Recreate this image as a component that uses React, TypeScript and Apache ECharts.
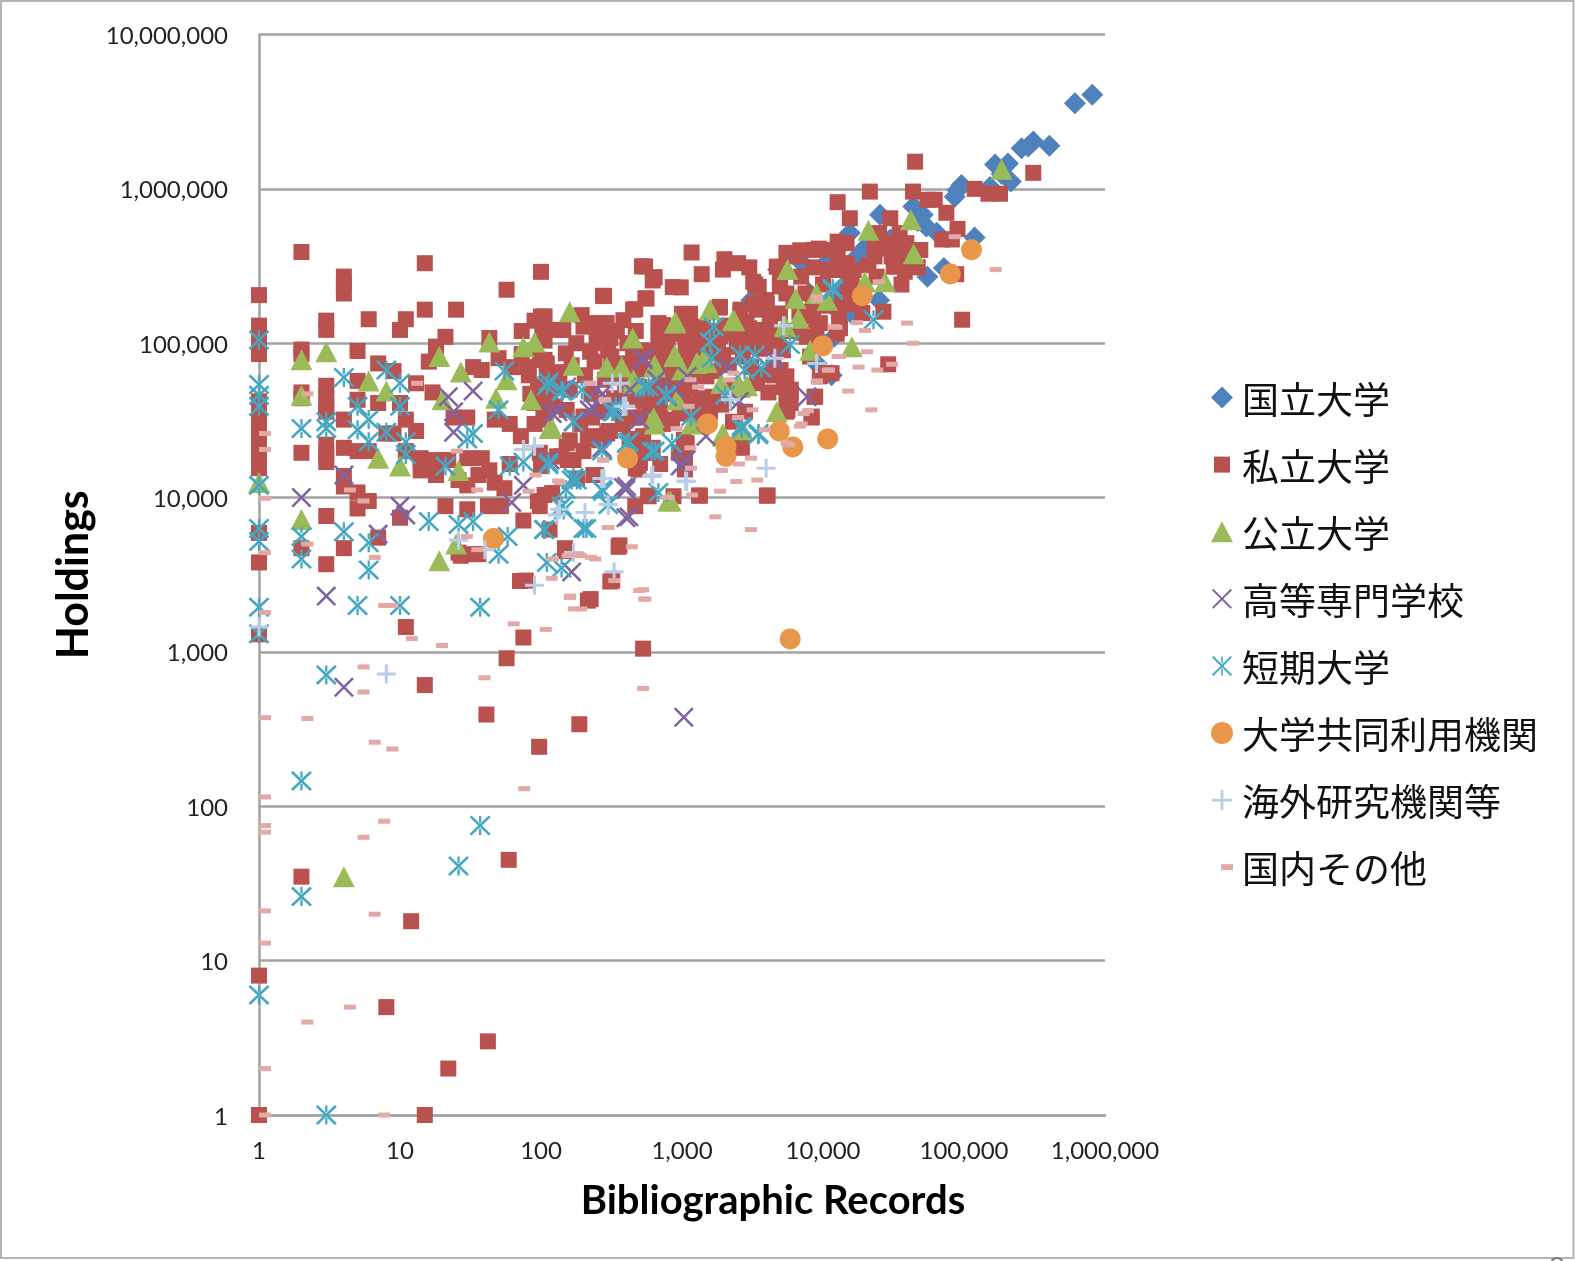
import React, { useEffect, useRef } from "react";
import * as echarts from "echarts";

const seriesNames = ["国立大学", "私立大学", "公立大学", "高等専門学校", "短期大学", "大学共同利用機関", "海外研究機関等", "国内その他"];
const xTitle = "Bibliographic Records";
const yTitle = "Holdings";

const national = [
  [813000,4070000],[612000,3590000],[403000,1900000],[310000,2030000],[256000,1830000],[285000,1880000],[215000,1115000],[166000,1440000],[205000,1460000],[153000,1030000],[185000,1250000],
  [96000,1060000],[86000,890000],[90000,980000],[25400,680000],[43700,770000],[51000,680000],[54000,570000],[64000,520000],[119000,484000],[55000,270000],[72000,307000],[15500,517000],
  [30000,470000],[17000,355000],[11000,345000],[7000,335000],[3100,190000],[13000,220000],[25000,190000],[12500,165000],[16000,155000],[9000,74000],[12000,110000],[38000,400000],[47000,620000],[20000,420000],
  [8000,210000],[14500,240000],[10000,100000],[11500,62000],[4800,300000],
];

const privateU = [
  [1,205000],[1,130000],[1,115000],[1,105000],[1,95000],[1,85000],[1,42000],[1,38000],[1,34000],[1,30000],[1,27000],[1,24000],[1,21000],[1,19000],[1,17000],[1,15500],[1,5900],[1,3800],[1,1300],[1,8],[1,1],
  [2,390000],[2,91000],[2,85000],[2,48000],[2,44000],[2,19500],[2,4700],[2,35],
  [3,140000],[3,122000],[3,53000],[3,46000],[3,40000],[3,36000],[3,22000],[3,19000],[3,17000],[3,7600],[3,3700],
  [4,270000],[4,240000],[4,210000],[4,32000],[4,21000],[4,4700],[4,11800],[4,13800],
  [5,89000],[5,57000],[5,43000],[5,20000],[5,10800],[5,8500],[6,143000],[6,20000],[6,9500],[7,74000],[7,41000],[7,5500],[8,26000],[8,5],
  [9,66000],[9,26000],[10,122000],[10,41000],[10,7400],[11,143000],[11,32000],[11,20000],[11,1450],[12,18],[13,55000],[13,27000],[14,18000],[14,15000],
  [15,330000],[15,165000],[15,610],[15,1],[16,76000],[17,48000],[18,95000],[18,17500],[18,14000],[21,110000],[21,8800],[22,17500],[22,2],[24,33000],[25,165000],[26,13000],[26,4400],
  [27,4200],[30,33000],[30,18000],[30,12000],[30,8400],[32,4300],[33,70000],[36,14000],[36,4300],[38,67000],[38,18000],[41,393],[42,8800],[42,3],[43,108000],[43,15000],[47,32000],[47,12500],
  [50,80000],[52,8800],[55,11500],[57,222000],[57,910],[59,45],[60,30000],[60,16500],[62,70000],[71,2880],[72,25000],[73,120000],[73,85000],[75,1240],[78,2900],[75,7100],[80,70000],
  [84,47000],[90,140000],[90,30000],[90,41000],[95,9500],[97,243],[98,78000],[98,19500],[98,8800],[100,290000],[100,149000],[100,45000],[100,16000],[102,122000],[104,35000],[106,149000],[106,122000],[106,78000],[106,17500],[106,10400],
  [108,32000],[110,74000],[112,52000],[115,6200],[116,41000],[120,10700],[122,52000],[129,65000],[130,122000],[130,18500],[140,18500],[144,122000],[148,4700],[149,4500],[152,37000],[152,22500],[155,17500],[160,50000],[160,23500],
  [170,17500],[180,13300],[187,340],[194,152000],[200,128000],[200,33500],[200,20000],[215,2150],[223,88000],[225,2200],[230,33000],[235,14000],[241,135000],[245,25000],[245,14000],[248,110000],[260,23500],
  [275,203000],[280,202000],[292,135000],[300,110000],[300,90000],[300,27000],[310,108000],[310,27000],[310,2860],[320,2900],[325,67000],[355,4800],[360,4900],[380,30000],[384,141000],[404,74000],
  [450,165000],[450,90000],[452,33000],[466,166000],[466,8800],[470,15500],[478,43000],[480,21000],[490,15200],[503,78000],[503,16800],[510,33000],[520,315000],[530,1050],[550,195000],[560,195000],[560,19500],[575,10300],[580,10200],
  [594,39000],[620,255000],[620,21000],[640,267000],[662,30000],[680,135000],[680,110000],[680,90000],[700,61000],[735,131000],[735,110000],[735,30000],[760,90000],[860,231000],[870,74000],[870,47000],[870,10200],
  [980,230000],[1000,155000],[1020,35000],[1030,23700],[950,19500],[1050,18500],[1050,15200],[1080,22500],[1110,152000],[1140,110000],[1140,52000],[1170,387000],[1380,280000],[1320,10300],[1340,41000],[1340,10300],[1410,128000],[1490,105000],[1490,61000],
  [1650,45000],[1670,41000],[1760,86000],[1840,170000],[1860,172000],[1860,111000],[1950,300000],[1960,84000],[2000,350000],[2070,52000],[2450,95000],[2500,330000],[2590,156000],[2590,50000],[2600,165000],[2600,111000],[2650,21500],[2650,21000],[2870,135000],
  [3000,310000],[3200,250000],[3200,181000],[3200,105000],[3200,95000],[3300,240000],[3400,165000],[3400,122000],[3400,55000],[3500,232000],[3770,110000],[3900,190000],[3950,190000],[4000,180000],[4000,10300],[4050,10300],[4200,150000],[4200,135000],
  [4450,70000],[4700,313000],[4700,110000],[4950,313000],[4950,258000],[4950,233000],[4950,156000],[5000,67000],[5250,52000],[5500,385000],[5500,210000],[5500,61000],[5500,41000],[5500,36000],[5600,37000],[5900,50000],[5900,48000],[5900,41000],
  [6160,190000],[6500,365000],[6900,400000],[7000,270000],[7250,117000],[7700,110000],[8100,82000],[8300,33500],[8300,33000],[8500,402000],[8500,310000],[8500,180000],[8500,150000],[8700,45000],[8800,45000],[9000,130000],[9300,410000],[9500,135000],[9500,61000],
  [10600,64000],[10800,298000],[11200,402000],[11500,64000],[12500,191000],[12500,115000],[12700,820000],[12700,455000],[12700,365000],[13200,125000],[13300,298000],[14700,445000],[14700,330000],[15500,645000],[16000,245000],[16200,180000],[16500,298000],
  [19000,157000],[21500,960000],[23200,445000],[23200,365000],[25000,517000],[26800,160000],[29000,73000],[30000,645000],[30700,365000],[31700,313000],[35000,517000],[35000,347000],[36000,240000],[39000,445000],[43500,960000],[45000,1500000],
  [47000,310000],[49000,402000],[55000,850000],[62000,850000],[70000,470000],[75000,700000],[82000,470000],[88000,280000],[90000,550000],[97000,142000],[119000,1000000],[149000,930000],[180000,930000],[310000,1270000],
  [106,104000],[530,25000],[590,50000],[590,19500],[626,268000],[700,37000],[700,16500],[740,100000],[760,128000],[547,314000],[1030,45000],[1140,155000],[1140,122000],[1140,68000],[1340,105000],[1500,33500],
  [82,62000],[95,52000],[110,62000],[125,39000],[135,62000],[150,86000],[165,72000],[178,100000],[190,30000],[205,62000],[215,24000],[228,47000],[240,76000],[255,100000],[265,36000],[285,58000],[295,26000],[315,82000],[330,44000],[345,120000],[360,60000],[395,47000],[410,100000],[425,24000],[440,62000],[470,120000],[495,52000],[515,90000],[540,42000],[565,68000],[610,46000],[630,88000],[650,40000],[670,70000],[690,45000],[720,85000],[750,57000],[790,100000],[820,60000],[850,32000],[900,115000],[930,75000],[960,36000],[990,55000],[1060,95000],[1100,76000],[1150,40000],[1200,90000],[1230,62000],[1280,33000],[1300,100000],[1380,68000],[1450,44000],[1520,88000],[1580,36000],[1620,120000],[1700,66000],[1800,100000],[1900,40000],[2020,130000],[2150,72000],[2300,31000],[2400,115000],[2700,82000],[2800,36000],[3000,125000],[3100,70000],[3600,92000],[3800,62000],[4100,48000],[4300,95000],[4600,62000],[5200,90000],[5700,120000],[6800,160000],[7500,210000],[8800,105000],[10000,240000],[11000,175000],[13000,150000],[14000,185000],[15000,235000],[17500,215000],[21000,320000],[24000,270000],[28000,410000],[32000,450000],[38000,290000],[42000,375000],
];

const publicU = [
  [185000,1340000],[21000,540000],[42000,630000],[44000,380000],[5600,300000],[6400,195000],[9000,210000],[10700,190000],[19800,250000],[27500,250000],[5350,130000],[6700,145000],[8100,90000],[16000,95000],
  [1580,165000],[2350,140000],[900,137000],[880,82000],[1280,75000],[640,71000],[4700,36000],[830,9500],[630,33000],[1950,26000],[2650,28000],[2500,55000],[2900,53000],[1500,75000],
  [2,78000],[3,88000],[2,46000],[1,12500],[2,7200],[4,35],[6,57000],[8,49000],[7,18000],[10,16000],[19,82000],[27,65000],[43,102000],[75,95000],[90,102000],[57,58000],[48,44000],[85,43000],[160,160000],[170,72000],
  [447,108000],[293,70000],[373,70000],[890,135000],[890,84000],[643,70000],[450,55000],[640,30000],[115,28000],[26,15000],[20,43000],[25,5000],[19,3900],[800,9500],[1000,67000],
  [1270,74000],[640,72000],[920,43000],[2590,52000],[1430,80000],[1900,55000],[120,28000],[1170,30000],[452,58000],[2300,141000],[1580,165000],[5400,128000],[1950,25000],[2650,27500],
];

const kosen = [
  [152,52000],[274,47000],[132,36000],[170,31000],[235,38000],[320,39000],[530,78000],[500,32000],[405,11800],[385,11600],[420,7500],[780,46000],[1090,61000],[880,51000],[1480,25000],[1070,17500],[970,16000],[660,58000],[2130,70000],[2550,42000],[4550,78000],[7700,45000],[273,20500],[116,17500],[590,52000],[428,50000],
  [530,80000],[22,45000],[24,36000],[33,49000],[24,26500],[4,14000],[2,10000],[10,8800],[11,7700],[7,5800],[3,2300],[21,16000],[75,12000],[62,9300],[400,11300],[400,7400],[165,3300],[270,21000],[170,31000],[220,37000],[120,35000],[250,50000],[500,32000],[140,50000],[1000,16500],[790,45000],
  [4,590],[1030,377],
];

const junior = [
  [1,105000],[1,54000],[1,46000],[1,39000],[1,12000],[1,6300],[1,5200],[1,1950],[1,1310],[1,6],[2,28000],[2,5600],[2,4000],[2,146],[2,26],[3,28000],[3,31000],[3,710],[3,1],[4,60000],[4,6000],[5,39000],[5,27500],[5,2000],[6,32000],[6,23000],[6,5100],[6,3400],
  [10,2000],[8,67000],[10,55000],[10,39000],[8,26500],[11,23000],[11,19000],[16,7000],[26,6700],[26,41],[33,7000],[37,75],[37,1950],[58,5600],[50,4300],[21,16000],[33,26000],[30,24000],[55,66000],[50,37000],[60,16000],[75,17000],[113,16300],[110,53000],[140,49000],[195,50000],[170,31000],
  [320,36000],[420,23000],[540,52000],[780,46000],[610,20000],[165,13000],[140,8800],[170,13500],[300,9000],[270,11300],[200,6300],[105,6200],[680,10800],[110,3800],[140,3500],
  [330,36000],[340,39000],[1580,102000],[1680,128000],[1620,80000],[2580,84000],[3300,84000],[2780,67000],[3650,69000],[5830,98000],[580,52000],[770,46000],[113,56000],[143,49000],[1160,33500],[2020,46000],[2650,28000],[3470,25500],[405,22500],[270,20000],[640,20000],[850,22500],[276,11000],[210,6300],[145,8300],[150,11300],[113,16800],[106,6200],[180,13000],
  [11800,220000],[11700,227000],[22800,142000],[2640,29000],[3500,26000],
];

const interUniversity = [
  [113000,403000],[80000,281000],[19000,203000],[9950,96000],[1520,30000],[4900,27000],[6100,21300],[10800,24000],[2050,21500],[2050,18500],[411,18000],[46,5430],[5850,1214],
];

const overseas = [
  [75,20500],[90,21500],[320,55000],[400,39000],[620,14000],[1060,12800],[280,13300],[300,9000],[205,8000],[135,8400],[26,5300],[40,4600],[330,3300],[90,2700],[170,4400],[8,720],[1,1450],
  [365,55000],[385,39000],[610,13700],[270,13300],[1080,12700],[130,7700],[3950,15500],[4550,80000],[5250,130000],[9000,74000],[2200,43000],
];

const domesticOther = [
  [203,55000],[259,43000],[1040,58000],[1180,52000],[1010,39000],[1950,58000],[2100,64000],[8200,190000],[10800,128000],[830,28000],[2870,37000],[2270,33000],[7100,36500],[6400,30000],[10000,67000],[8200,57000],[11500,82000],[3500,27500],[5000,22500],[2800,18000],[2300,16500],[1740,15000],[3100,13000],[2200,12700],[1690,11000],[1070,10400],[710,10000],[1040,21000],[250,17500],[1050,15500],[124,12500],[273,6400],[1560,7500],[2800,6200],
  [78000,490000],[152000,300000],[35800,135000],[39500,100000],[18000,121000],[15800,136000],[18600,88000],[12000,82000],[16200,70000],[22000,67000],[28000,73000],[13700,49000],[20000,37000],[11300,127000],[8200,200000],[22500,250000],[9800,67000],[8200,56000],[6600,35000],[6200,29000],[5200,22000],
  [1,26000],[1,20500],[1,9900],[1,4400],[1,1800],[2,47000],[2,5000],[4,11200],[5,9500],[12,55000],[6,4100],[8,2000],[23,20000],[32,11200],[27,5600],[83,14000],[120,12800],[74,11000],[200,55000],[255,43000],[250,17500],[270,6400],[400,4800],[110,4000],[168,4300],[205,4100],[300,2900],[450,2500],[500,2200],[145,2250],[175,1900],[32,4600],[730,10000],
  [1,375],[1,115],[1,75],[1,68],[1,21],[1,13],[1,2],[1,1],[2,370],[2,4],[4,5],[6,20],[5,63],[7,80],[6,260],[8,235],[5,800],[5,550],[7,2000],[11,1220],[18,1100],[36,680],[69,130],[58,1520],[98,1400],[155,1900],[146,2300],[480,2530],[490,2200],[480,580],[108,3000],[7,1],[140,4200],[175,4200],[220,4000],
];

const colors = ["#4f81bd", "#b9514e", "#9bbb59", "#8064a2", "#45a8c2", "#e8964a", "#bacde6", "#e2a9a7"];

const crossPath = "M0 1.8L1.8 0L10 8.2L18.2 0L20 1.8L11.8 10L20 18.2L18.2 20L10 11.8L1.8 20L0 18.2L8.2 10Z";
const starPath = crossPath + "M8.9 0.5H11.1V6.9H8.9ZM8.9 13.1H11.1V19.5H8.9Z";
const plusPath = "M8.4 0H11.6V8.4H20V11.6H11.6V20H8.4V11.6H0V8.4H8.4Z";

const box = "M0 0M28 28";
const legendIcons = [
  box + "M3 14L14 3L25 14L14 25Z",
  box + "M6 6H22V22H6Z",
  box + "M3 24.5L14 3.5L25 24.5Z",
  box + "M4 5.4L5.4 4L14 12.6L22.6 4L24 5.4L15.4 14L24 22.6L22.6 24L14 15.4L5.4 24L4 22.6L12.6 14Z",
  box + "M4 5.4L5.4 4L14 12.6L22.6 4L24 5.4L15.4 14L24 22.6L22.6 24L14 15.4L5.4 24L4 22.6L12.6 14ZM13.2 4.5H14.8V11.3H13.2ZM13.2 16.7H14.8V23.5H13.2Z",
  box + "M3 14A11 11 0 1 1 25 14A11 11 0 1 1 3 14Z",
  box + "M12.6 4H15.4V12.6H24V15.4H15.4V24H12.6V15.4H4V12.6H12.6Z",
  box + "M13 11H25V17H13Z",
];

const fmt = (v: number) => Math.round(v).toLocaleString("en-US");

export default function App() {
  const ref = useRef<HTMLDivElement>(null);
  useEffect(() => {
    document.body.style.margin = "0";
    document.body.style.overflow = "hidden";
    const chart = echarts.init(ref.current!, undefined, { renderer: "svg" });
    const data = [national, privateU, publicU, kosen, junior, interUniversity, overseas, domesticOther];
    const symbols: any[] = ["diamond", "rect", "triangle", "path://" + crossPath, "path://" + starPath, "circle", "path://" + plusPath, "rect"];
    const sizes: any[] = [[22, 22], [16, 16], [22, 21], [20, 20], [21, 20], [21, 21], [19, 19], [12, 5]];
    chart.setOption({
      animation: false,
      backgroundColor: "#ffffff",
      textStyle: { fontFamily: "Lato" },
      grid: { left: 259, top: 34.5, width: 846, height: 1080.5, containLabel: false },
      legend: {
        orient: "vertical",
        left: 1203,
        top: 374,
        itemWidth: 28,
        itemHeight: 28,
        itemGap: 30.1,
        selectedMode: false,
        textStyle: { fontFamily: "Noto Sans CJK JP", fontSize: 37, color: "#111111", lineHeight: 36, padding: [0, 0, 0, 1] },
        data: seriesNames.map((name, i) => ({ name, icon: "path://" + legendIcons[i] })),
      },
      xAxis: {
        type: "log",
        logBase: 10,
        min: 1,
        max: 1000000,
        name: xTitle,
        nameLocation: "middle",
        nameGap: 64,
        nameTextStyle: { fontFamily: "Lato", fontWeight: "bold", fontSize: 40, color: "#000000", padding: [0, 0, 0, 182] },
        axisLine: { show: true, lineStyle: { color: "#a3a3a3", width: 2.5 } },
        axisTick: { show: false },
        splitLine: { show: false },
        minorSplitLine: { show: false },
        axisLabel: { fontFamily: "Lato", fontSize: 24, color: "#222222", margin: 22, formatter: fmt },
      },
      yAxis: {
        type: "log",
        logBase: 10,
        min: 1,
        max: 10000000,
        name: yTitle,
        nameLocation: "middle",
        nameGap: 166,
        nameTextStyle: { fontFamily: "Lato", fontWeight: "bold", fontSize: 43, color: "#000000" },
        axisLine: { show: true, lineStyle: { color: "#a3a3a3", width: 2.5 } },
        axisTick: { show: false },
        splitLine: { show: true, lineStyle: { color: "#a3a3a3", width: 2.5 } },
        axisLabel: { fontFamily: "Lato", fontSize: 24, color: "#222222", margin: 31, padding: [2, 0, 0, 0], formatter: fmt },
      },
      graphic: [
        { type: "rect", z: -10, silent: true, shape: { x: 1, y: 1, width: 1572.5, height: 1257 }, style: { fill: "none", stroke: "#b4b4b4", lineWidth: 2 } },
        { type: "arc", silent: true, shape: { cx: 1557, cy: 1264, r: 6, startAngle: Math.PI, endAngle: 0, clockwise: true }, style: { stroke: "#777777", lineWidth: 2, fill: "none" } },
      ],
      series: seriesNames.map((name, i) => ({
        name,
        type: "scatter",
        clip: false,
        data: data[i],
        symbol: symbols[i],
        symbolSize: sizes[i],
        symbolOffset: i === 7 ? [6, 0] : [0, 0],
        itemStyle: { color: colors[i], opacity: 1 },
        z: 2 + i,
        emphasis: { disabled: true },
      })),
    });
    return () => chart.dispose();
  }, []);
  return <div ref={ref} style={{ position: "absolute", left: 0, top: 0, width: 1575, height: 1261, filter: "blur(0.5px)" }} />;
}
